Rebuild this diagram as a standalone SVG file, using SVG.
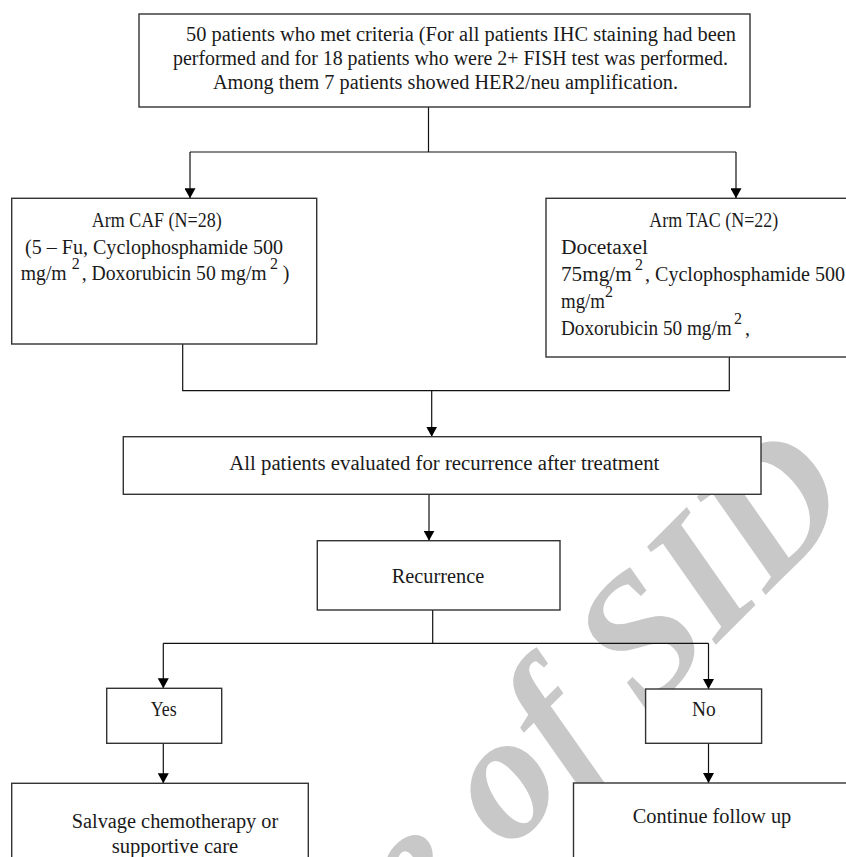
<svg xmlns="http://www.w3.org/2000/svg" width="846" height="857" viewBox="0 0 846 857">
<defs>
<marker id="ah" markerUnits="userSpaceOnUse" markerWidth="10" markerHeight="11" refX="10" refY="5.5" orient="auto" viewBox="0 0 10 11"><path d="M0,0 L10,5.5 L0,11 Z" fill="#000"/></marker>
</defs>
<style>
.box{fill:#fff;stroke:#333;stroke-width:1.4}
.ln{fill:none;stroke:#111;stroke-width:1.2}
.t{font-family:"Liberation Serif","Times New Roman",serif;font-size:20px;fill:#1a1a1a}
.sup{font-size:16px}
.wm{font-family:"Liberation Serif","Times New Roman",serif;font-style:italic;font-weight:bold;font-size:180px;fill:#c8c8c8}
</style>
<rect width="846" height="857" fill="#fff"/>
<g id="watermark" transform="rotate(-45)"><text class="wm" x="252" y="962" text-anchor="end">Archive of SID</text></g>
<g id="connectors">
<path class="ln" d="M428.5,107 V152 M190,152 H736"/>
<path class="ln" d="M190,152 V198.3" marker-end="url(#ah)"/>
<path class="ln" d="M736,152 V198.3" marker-end="url(#ah)"/>
<path class="ln" d="M182.7,344 V390.7 H729.3 V357"/>
<path class="ln" d="M431.7,390.7 V436.7" marker-end="url(#ah)"/>
<path class="ln" d="M429,494.3 V540.7" marker-end="url(#ah)"/>
<path class="ln" d="M432.7,610 V643.3 M163.3,643.3 H708.5"/>
<path class="ln" d="M163.3,643.3 V688.3" marker-end="url(#ah)"/>
<path class="ln" d="M708.5,643.3 V689" marker-end="url(#ah)"/>
<path class="ln" d="M163.3,743.3 V783.3" marker-end="url(#ah)"/>
<path class="ln" d="M708.5,743.3 V783" marker-end="url(#ah)"/>
</g>
<g id="n-top">
<rect class="box" x="139" y="14" width="611" height="93"/>
<text class="t" x="186" y="40.5" textLength="550" lengthAdjust="spacingAndGlyphs">50 patients who met criteria (For all patients IHC staining had been</text>
<text class="t" x="173" y="65" textLength="555" lengthAdjust="spacingAndGlyphs">performed and for 18 patients who were 2+ FISH test was performed.</text>
<text class="t" x="213" y="88.5" textLength="465" lengthAdjust="spacingAndGlyphs">Among them 7 patients showed HER2/neu amplification.</text>
</g>
<g id="n-caf">
<rect class="box" x="11.7" y="198.3" width="305" height="145.7"/>
<text class="t" x="91.7" y="226.7" textLength="130" lengthAdjust="spacingAndGlyphs">Arm CAF (N=28)</text>
<text class="t" x="25" y="254" textLength="258" lengthAdjust="spacingAndGlyphs">(5 – Fu, Cyclophosphamide 500</text>
<text class="t" x="20.7" y="280" textLength="46" lengthAdjust="spacingAndGlyphs">mg/m</text>
<text class="t sup" x="71.7" y="269">2</text>
<text class="t" x="81.7" y="280" textLength="185" lengthAdjust="spacingAndGlyphs">, Doxorubicin 50 mg/m</text>
<text class="t sup" x="270" y="269">2</text>
<text class="t" x="282.7" y="280">)</text>
</g>
<g id="n-tac">
<rect class="box" x="546" y="198.3" width="305" height="158.7"/>
<text class="t" x="649.3" y="227" textLength="129" lengthAdjust="spacingAndGlyphs">Arm TAC (N=22)</text>
<text class="t" x="561" y="254" textLength="87" lengthAdjust="spacingAndGlyphs">Docetaxel</text>
<text class="t" x="561" y="281" textLength="70.7" lengthAdjust="spacingAndGlyphs">75mg/m</text>
<text class="t sup" x="635" y="270">2</text>
<text class="t" x="645" y="281" textLength="200" lengthAdjust="spacingAndGlyphs">, Cyclophosphamide 500</text>
<text class="t" x="561" y="308" textLength="44" lengthAdjust="spacingAndGlyphs">mg/m</text>
<text class="t sup" x="605" y="297">2</text>
<text class="t" x="561" y="335" textLength="170.7" lengthAdjust="spacingAndGlyphs">Doxorubicin 50 mg/m</text>
<text class="t sup" x="734" y="324">2</text>
<text class="t" x="745" y="335">,</text>
</g>
<g id="n-all">
<rect class="box" x="123.3" y="436.7" width="637.7" height="57.6"/>
<text class="t" x="229.3" y="470" textLength="430" lengthAdjust="spacingAndGlyphs">All patients evaluated for recurrence after treatment</text>
</g>
<g id="n-rec">
<rect class="box" x="317.3" y="540.7" width="242.7" height="69.3"/>
<text class="t" x="391.7" y="582.7" textLength="92.6" lengthAdjust="spacingAndGlyphs">Recurrence</text>
</g>
<g id="n-yes">
<rect class="box" x="106.7" y="688.3" width="115" height="55"/>
<text class="t" x="150.7" y="716" textLength="26" lengthAdjust="spacingAndGlyphs">Yes</text>
</g>
<g id="n-no">
<rect class="box" x="645.6" y="689" width="116" height="54.3"/>
<text class="t" x="692" y="716" textLength="23.7" lengthAdjust="spacingAndGlyphs">No</text>
</g>
<g id="n-salvage">
<rect class="box" x="11.7" y="783.3" width="296.6" height="90"/>
<text class="t" x="71.7" y="828" textLength="206.6" lengthAdjust="spacingAndGlyphs">Salvage chemotherapy or</text>
<text class="t" x="111.7" y="853" textLength="126.6" lengthAdjust="spacingAndGlyphs">supportive care</text>
</g>
<g id="n-continue">
<rect class="box" x="573.5" y="783" width="290" height="90"/>
<text class="t" x="632.7" y="823.3" textLength="158.6" lengthAdjust="spacingAndGlyphs">Continue follow up</text>
</g>
</svg>
